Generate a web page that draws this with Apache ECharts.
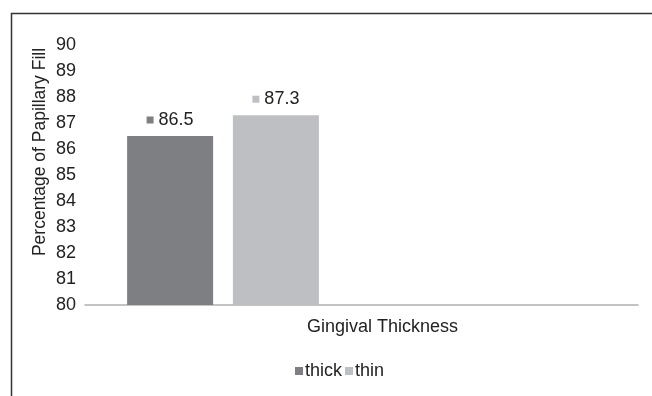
<!DOCTYPE html>
<html>
<head>
<meta charset="utf-8">
<script src="https://cdn.jsdelivr.net/npm/echarts@6/dist/echarts.min.js"></script>
<style>
  html, body { margin: 0; padding: 0; background: #fff; }
  #chart { width: 652px; height: 396px; }
</style>
</head>
<body>
<div id="chart"></div>
<script>
// Papillary fill by gingival thickness
const categories = ['Gingival Thickness'];
const seriesNames = ['thick', 'thin'];
const thickValues = [86.5];
const thinValues = [87.3];
const yTicks = { min: 80, max: 90, interval: 1 };

const colors = { thick: '#7e7f83', thin: '#bebfc2' };
const textColor = '#222';
const font = 'Liberation Sans, Arial, sans-serif';

function valueLabel(color) {
  return {
    show: true,
    position: 'top',
    distance: 7,
    formatter: p => '{s|}{v|' + p.value + '}',
    rich: {
      s: { width: 7, height: 7, backgroundColor: color },
      v: { fontSize: 18, color: textColor, fontFamily: font, padding: [0, 0, 0, 5] }
    }
  };
}

const chart = echarts.init(document.getElementById('chart'), null, { renderer: 'canvas' });
chart.setOption({
  animation: false,
  backgroundColor: '#fff',
  textStyle: { fontFamily: font },
  grid: [
    { left: 85, right: 14, top: 45, bottom: 91 },
    { left: 85, width: 276, top: 45, bottom: 91 }
  ],
  xAxis: [
    {
      type: 'category', gridIndex: 0, data: categories,
      axisLine: { lineStyle: { color: '#b0b0b0', width: 1.5 } },
      axisTick: { show: false },
      axisLabel: { color: textColor, fontSize: 18, margin: 13, fontFamily: font, padding: [0, 0, 0, 42] }
    },
    {
      type: 'category', gridIndex: 1, data: categories,
      show: false
    }
  ],
  yAxis: [
    {
      type: 'value', gridIndex: 0,
      min: yTicks.min, max: yTicks.max, interval: yTicks.interval,
      axisLine: { show: false }, axisTick: { show: false },
      splitLine: { show: false },
      axisLabel: { color: textColor, fontSize: 18, margin: 9, fontFamily: font }
    },
    {
      type: 'value', gridIndex: 1,
      min: yTicks.min, max: yTicks.max, interval: yTicks.interval,
      show: false, splitLine: { show: false }
    }
  ],
  legend: {
    data: seriesNames,
    left: 290, top: 357,
    itemWidth: 8, itemHeight: 8, itemGap: 3,
    icon: 'rect',
    textStyle: { color: textColor, fontSize: 18, fontFamily: font, padding: [0, 0, 0, -3] }
  },
  series: [
    {
      name: 'thick', type: 'bar', xAxisIndex: 1, yAxisIndex: 1,
      data: thickValues, barWidth: 86, barGap: '23%',
      itemStyle: { color: colors.thick },
      label: valueLabel(colors.thick)
    },
    {
      name: 'thin', type: 'bar', xAxisIndex: 1, yAxisIndex: 1,
      data: thinValues, barWidth: 86, barGap: '23%',
      itemStyle: { color: colors.thin },
      label: valueLabel(colors.thin)
    }
  ],
  graphic: [
    {
      type: 'text',
      x: 40, y: 152,
      rotation: Math.PI / 2,
      style: {
        text: 'Percentage of Papillary Fill',
        fill: textColor, fontSize: 17.5, fontFamily: font,
        align: 'center', verticalAlign: 'middle'
      }
    },
    {
      type: 'polyline',
      shape: { points: [[11.5, 396], [11.5, 13.5], [652, 13.5]] },
      style: { stroke: '#333', lineWidth: 1.5, fill: null }
    }
  ]
});
</script>
</body>
</html>
